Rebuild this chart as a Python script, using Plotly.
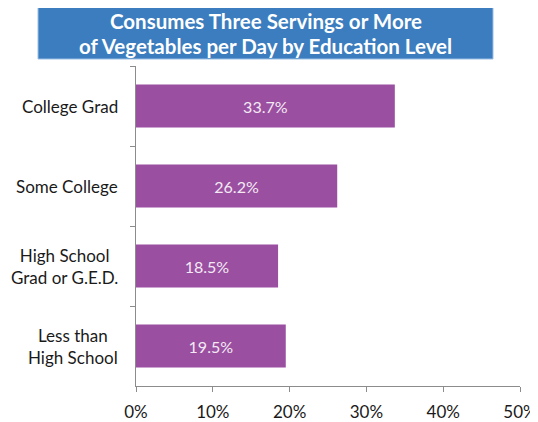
import plotly.graph_objects as go

categories = ["College Grad", "Some College", "High School<br>Grad or G.E.D.", "Less than<br>High School"]
values = [33.7, 26.2, 18.5, 19.5]
value_labels = ["33.7%", "26.2%", "18.5%", "19.5%"]
x_ticks = [0, 10, 20, 30, 40, 50]
x_tick_labels = ["0%", "10%", "20%", "30%", "40%", "50%"]
title_lines = ["Consumes Three Servings or More", "of Vegetables per Day by Education Level"]

FONT = "Lato"
OFF = 8  # default page body margin
W, H = 538 - OFF, 422 - OFF
L, R, T, B = 136 - OFF, 18, 66 - OFF, 36
pw, ph = W - L - R, H - T - B

def px_to_paper_x(px):
    return (px - OFF - L) / pw

def py_to_paper_y(py):
    return (H - B - (py - OFF)) / ph

fig = go.Figure(go.Bar(
    x=values, y=categories, orientation="h",
    marker=dict(color="#9A4FA1", line=dict(width=0)),
    text=value_labels, textposition="inside", insidetextanchor="middle",
    textfont=dict(family=FONT, size=16, color="#F3E9F3"),
    cliponaxis=False, hoverinfo="skip",
))

annotations = []
for c in categories:
    annotations.append(dict(
        x=px_to_paper_x(120), xref="paper", y=c, yref="y",
        text=c, showarrow=False, xanchor="right", yanchor="middle", align="center",
        font=dict(family=FONT, size=17, color="#1a1a1a"),
    ))

title_centers = [21, 46]
for line, cy in zip(title_lines, title_centers):
    annotations.append(dict(
        x=px_to_paper_x(265.5), xref="paper", y=py_to_paper_y(cy), yref="paper",
        text="<b>" + line + "</b>", showarrow=False, xanchor="center", yanchor="middle",
        font=dict(family=FONT, size=20.5, color="white"),
    ))

fig.update_layout(
    width=W, height=H,
    margin=dict(l=L, r=R, t=T, b=B, pad=0, autoexpand=False),
    plot_bgcolor="white", paper_bgcolor="white",
    bargap=0.46, showlegend=False,
    annotations=annotations,
    shapes=[dict(
        type="rect", xref="paper", yref="paper",
        x0=px_to_paper_x(38), x1=px_to_paper_x(493),
        y0=py_to_paper_y(59), y1=py_to_paper_y(7),
        fillcolor="#3B7DBE", line=dict(color="#9CC0E3", width=1), layer="below",
    )],
    xaxis=dict(
        range=[0, 50], tickvals=x_ticks, ticktext=x_tick_labels,
        showgrid=False, zeroline=False, showline=True, linecolor="#8C8C8C", linewidth=1,
        ticks="outside", ticklen=5, tickcolor="#8C8C8C",
        tickfont=dict(family=FONT, size=17, color="#1a1a1a"),
        ticklabelstandoff=6, fixedrange=True, automargin=False,
    ),
    yaxis=dict(
        categoryorder="array", categoryarray=categories, autorange="reversed",
        showgrid=False, zeroline=False, showline=True, linecolor="#8C8C8C", linewidth=1,
        ticks="outside", ticklen=5, tickcolor="#8C8C8C", tickson="boundaries",
        showticklabels=False, fixedrange=True, automargin=False,
    ),
)

fig.write_html("out.html")
